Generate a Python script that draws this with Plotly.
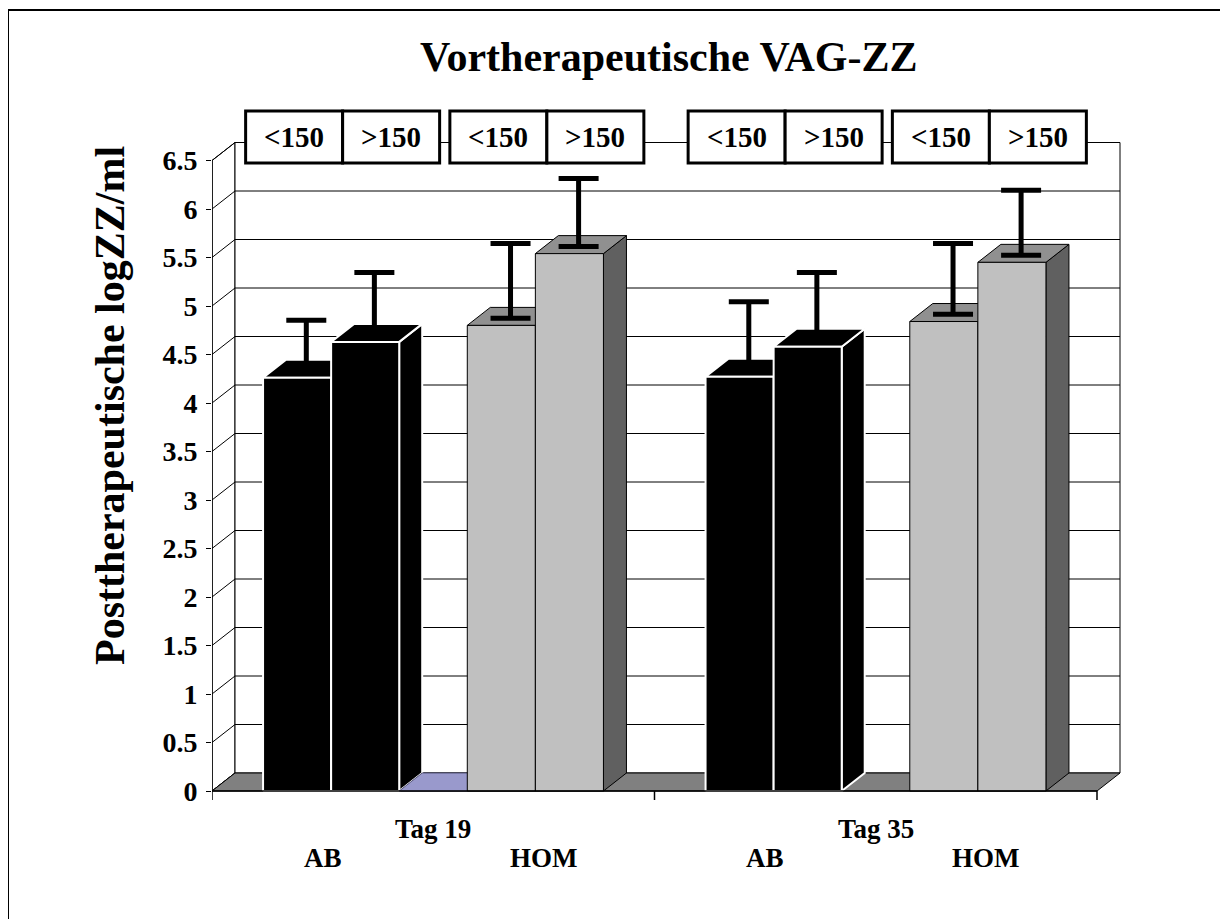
import html
import plotly.graph_objects as go

# ---------------- data ----------------
days = ["Tag 19", "Tag 35"]
groups = ["AB", "HOM"]
subgroups = ["<150", ">150"]

ab_lt150 = [4.26, 4.27]
ab_gt150 = [4.63, 4.58]
spacer = [0.0, None]          # empty series slot between AB and HOM
hom_lt150 = [4.80, 4.84]
hom_gt150 = [5.54, 5.45]

ab_lt150_sd = [0.52, 0.70]
ab_gt150_sd = [0.64, 0.69]
hom_lt150_sd = [0.77, 0.73]
hom_gt150_sd = [0.70, 0.67]

y_ticks = [0, 0.5, 1, 1.5, 2, 2.5, 3, 3.5, 4, 4.5, 5, 5.5, 6, 6.5]
y_tick_labels = ["0", "0.5", "1", "1.5", "2", "2.5", "3", "3.5", "4",
                 "4.5", "5", "5.5", "6", "6.5"]

title = "Vortherapeutische VAG-ZZ"
y_title = "Posttherapeutische logZZ/ml"

# ---------------- layout geometry ----------------
W, H = 1228, 919
OFF = 8                 # page body margin of the html page
REF_L, REF_T, REF_R, REF_B = 212, 100, 1123, 810   # plot area in screen pixels
L, T = REF_L - OFF, REF_T - OFF
R, B = W - (REF_R - OFF), H - (REF_B - OFF)
PW, PH = W - L - R, H - T - B
PX_CAT = 442.5          # pixels per category
PX_UNIT = 97.0          # pixels per y unit
Y0_REF = 791            # screen row of value 0
XR = [0, PW / PX_CAT]
yr0 = -(REF_B - Y0_REF) / PX_UNIT
YR = [yr0, yr0 + PH / PX_UNIT]
DX = 23 / PX_CAT        # depth offset (x)
DY = 18 / PX_UNIT       # depth offset (y)
NSLOT = 5
BW = 1 / (NSLOT + 1.5)
GAP = 0.75 * BW
YMAX = y_ticks[-1]
NCAT = len(days)

FONT = "Liberation Serif, Times New Roman, serif"


def xp(px):
    return (px - REF_L) / PW


def yp(py):
    return (REF_B - py) / PH


def vy(py):
    return (Y0_REF - py) / PX_UNIT


fig = go.Figure()


def poly(xs, ys, fill, line, lw):
    fig.add_trace(go.Scatter(
        x=list(xs) + [xs[0]], y=list(ys) + [ys[0]], mode="lines",
        fill="toself", fillcolor=fill,
        line=dict(color=line, width=lw),
        hoverinfo="skip", showlegend=False))


def lines(xs, ys, color="black", width=1):
    fig.add_trace(go.Scatter(x=xs, y=ys, mode="lines",
                             line=dict(color=color, width=width),
                             hoverinfo="skip", showlegend=False))


# walls
poly([0, DX, DX, 0], [0, DY, YMAX + DY, YMAX], "white", "black", 1)
poly([DX, NCAT + DX, NCAT + DX, DX], [DY, DY, YMAX + DY, YMAX + DY],
     "white", "black", 1)

# gridlines on back wall + side wall diagonals
gx, gy = [], []
for v in y_ticks[1:]:
    gx += [DX, NCAT + DX, None]
    gy += [v + DY, v + DY, None]
for v in y_ticks:
    gx += [0, DX, None]
    gy += [v, v + DY, None]
lines(gx, gy, "black", 1)

# floor
poly([0, NCAT, NCAT + DX, DX], [0, 0, DY, DY], "#808080", "black", 1)

# bars
styles = {
    "black": dict(front="#000000", top="#000000", side="#000000", line="#FFFFFF", lw=2),
    "grey": dict(front="#C0C0C0", top="#909090", side="#606060", line="#000000", lw=1),
    "purple": dict(front="#9999CC", top="#9999CC", side="#6E6E99", line="#55557A", lw=1),
}
series = [
    (ab_lt150, ab_lt150_sd, "black"),
    (ab_gt150, ab_gt150_sd, "black"),
    (spacer, None, "purple"),
    (hom_lt150, hom_lt150_sd, "grey"),
    (hom_gt150, hom_gt150_sd, "grey"),
]

err_x, err_y, err_v = [], [], []
F = 0.4
for i in range(NCAT):
    for j, (vals, sds, sty) in enumerate(series):
        v = vals[i]
        if v is None:
            continue
        s = styles[sty]
        x0 = i + GAP + j * BW
        x1 = x0 + BW
        if v > 0:
            poly([x1, x1 + DX, x1 + DX, x1], [0, DY, v + DY, v], s["side"], s["line"], s["lw"])
        poly([x0, x1, x1 + DX, x0 + DX], [v, v, v + DY, v + DY], s["top"], s["line"], s["lw"])
        if v > 0:
            poly([x0, x1, x1, x0], [0, 0, v, v], s["front"], s["line"], s["lw"])
        if sds is not None:
            err_x.append((x0 + x1) / 2 + F * DX)
            err_y.append(v + F * DY)
            err_v.append(sds[i])

# error bars
fig.add_trace(go.Scatter(
    x=err_x, y=err_y, mode="markers",
    marker=dict(size=1, color="rgba(0,0,0,0)"),
    error_y=dict(type="data", array=err_v, arrayminus=[0] * len(err_v),
                 symmetric=False, color="black", thickness=5, width=20),
    hoverinfo="skip", showlegend=False))

# front axes
ax_x = [0, 0, None, 0, NCAT, None]
ax_y = [0, YMAX, None, 0, 0, None]
for k in range(NCAT + 1):
    ax_x += [k, k, None]
    ax_y += [0, -9 / PX_UNIT, None]
lines(ax_x, ax_y, "black", 1.5)

shapes = []
annotations = []

# series label boxes above bars
BOXW = 97 / PX_CAT
BY0, BY1 = vy(163), vy(111)
for i in range(NCAT):
    for first_slot in (0, 3):
        c = i + GAP + (first_slot + 1) * BW + DX / 2
        for k, lab in enumerate(subgroups):
            bx0 = c - BOXW + k * BOXW
            bx1 = bx0 + BOXW
            shapes.append(dict(type="rect", xref="x", yref="y", x0=bx0, x1=bx1,
                               y0=BY0, y1=BY1, fillcolor="white",
                               line=dict(color="black", width=3), layer="above"))
            annotations.append(dict(x=(bx0 + bx1) / 2, y=(BY0 + BY1) / 2,
                                    xref="x", yref="y", text=html.escape(lab),
                                    showarrow=False, xanchor="center", yanchor="middle",
                                    font=dict(family=FONT, size=29, color="black",
                                              weight="bold")))

# category labels
for i, d in enumerate(days):
    annotations.append(dict(x=i + 0.5, y=yp(829), xref="x", yref="paper", text=d,
                            showarrow=False, xanchor="center", yanchor="middle",
                            font=dict(family=FONT, size=27, color="black", weight="bold")))
    for g, gname in enumerate(groups):
        annotations.append(dict(x=i + 0.25 + 0.5 * g, y=yp(858), xref="x", yref="paper",
                                text=gname, showarrow=False, xanchor="center",
                                yanchor="middle",
                                font=dict(family=FONT, size=27, color="black",
                                          weight="bold")))

# titles
annotations.append(dict(x=xp(668), y=yp(57), xref="paper", yref="paper", text=title,
                        showarrow=False, xanchor="center", yanchor="middle",
                        font=dict(family=FONT, size=42, color="black", weight="bold")))
annotations.append(dict(x=xp(110), y=yp(406), xref="paper", yref="paper", text=y_title,
                        textangle=-90, showarrow=False, xanchor="center", yanchor="middle",
                        font=dict(family=FONT, size=42, color="black", weight="bold")))

# outer frame
shapes.append(dict(type="rect", xref="paper", yref="paper",
                   x0=xp(8), x1=xp(1260), y0=yp(950), y1=yp(10),
                   line=dict(color="black", width=2), fillcolor="rgba(0,0,0,0)",
                   layer="above"))

fig.update_layout(
    width=W, height=H, autosize=False,
    margin=dict(l=L, r=R, t=T, b=B, pad=0),
    paper_bgcolor="white", plot_bgcolor="white",
    showlegend=False,
    xaxis=dict(range=XR, visible=False, fixedrange=True),
    yaxis=dict(range=YR, tickmode="array", tickvals=y_ticks, ticktext=y_tick_labels,
               showgrid=False, zeroline=False, showline=False,
               ticks="outside", ticklen=5, tickwidth=1, tickcolor="black",
               ticklabelstandoff=3,
               tickfont=dict(family=FONT, size=28, color="black", weight="bold"),
               fixedrange=True),
    shapes=shapes,
    annotations=annotations,
)

fig.write_html("out.html")
